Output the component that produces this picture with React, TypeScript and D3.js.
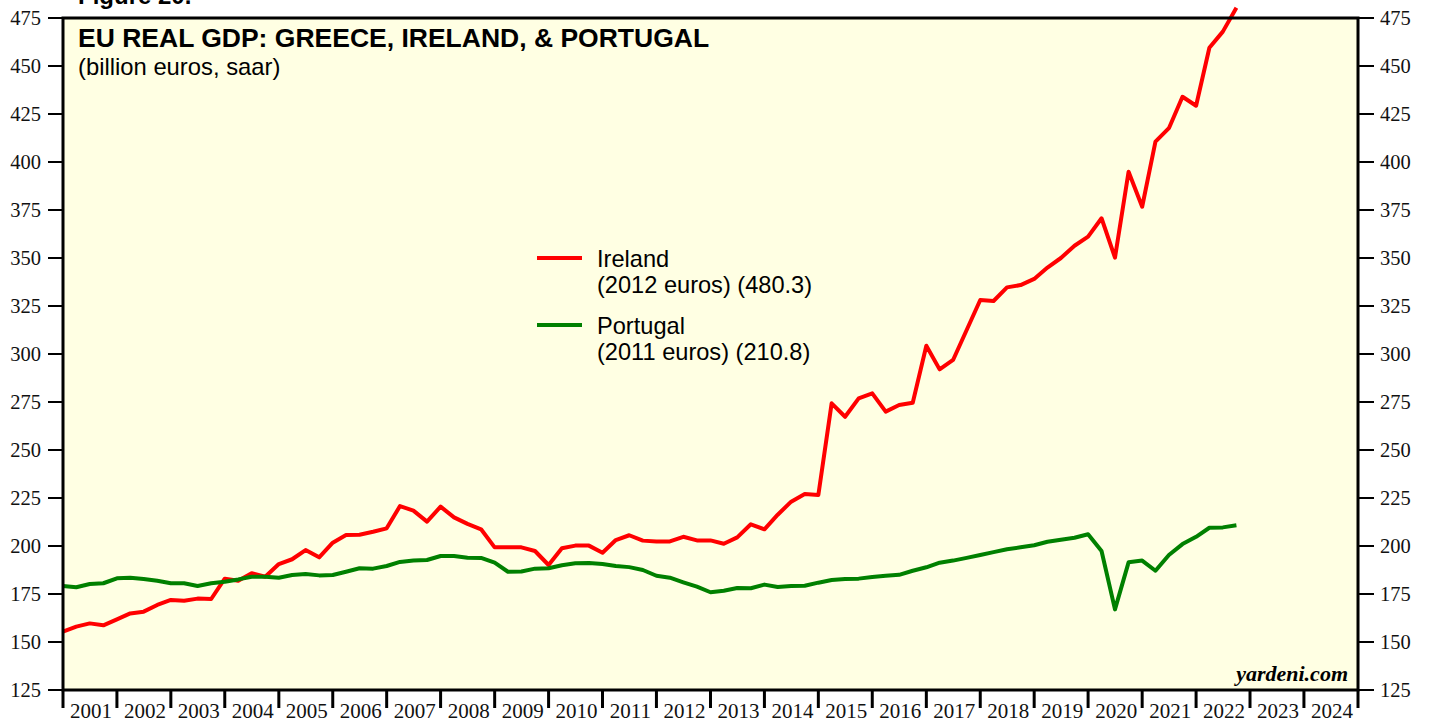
import React, { useEffect, useRef } from "react";
import * as d3 from "d3";

const W = 1429;
const H = 719;

const yearLabels = ["2001","2002","2003","2004","2005","2006","2007","2008","2009","2010","2011","2012","2013","2014","2015","2016","2017","2018","2019","2020","2021","2022","2023","2024"];
const yTicks = [125,150,175,200,225,250,275,300,325,350,375,400,425,450,475];

// Quarterly values, 2000Q4 .. 2022Q3 (plotted at quarter end)
const ireland = [
  155.4,158.0,159.7,158.7,161.8,164.9,165.8,169.3,171.9,171.5,172.6,172.4,
  183.0,181.9,185.8,184.0,190.6,193.1,197.9,194.1,201.7,205.7,205.9,207.4,
  209.2,220.8,218.4,212.7,220.5,214.9,211.5,208.7,199.3,199.3,199.3,197.4,
  190.1,198.8,200.2,200.2,196.5,203.1,205.6,202.8,202.4,202.4,204.8,202.9,
  202.9,201.2,204.5,211.3,208.7,216.3,223.1,227.1,226.6,274.3,267.3,276.9,
  279.5,270.0,273.4,274.6,304.3,292.0,296.9,312.5,328.1,327.6,334.7,335.9,
  339.1,345.0,350.0,356.4,361.1,370.7,350.2,394.9,376.7,410.6,417.6,434.0,
  429.3,459.5,467.9,480.3
];
const portugal = [
  179.2,178.5,180.2,180.6,183.2,183.5,182.8,181.9,180.6,180.6,179.2,180.6,
  181.4,182.6,184.0,184.0,183.5,184.9,185.4,184.7,184.9,186.6,188.4,188.2,
  189.6,191.7,192.4,192.7,194.8,194.8,193.9,193.8,191.3,186.6,186.7,188.2,
  188.4,190.0,191.0,191.1,190.6,189.6,189.0,187.5,184.5,183.5,181.1,178.8,
  175.9,176.7,178.1,178.0,179.9,178.6,179.2,179.3,180.9,182.3,182.8,183.0,
  183.9,184.5,185.0,187.1,188.9,191.3,192.4,193.8,195.3,196.8,198.3,199.3,
  200.4,202.2,203.3,204.3,206.1,197.4,167.0,191.5,192.4,187.1,195.3,201.0,
  204.8,209.5,209.7,210.8
];

const seriesList = [
  { name: "Ireland", sub: "(2012 euros) (480.3)", values: ireland, color: "#ff0000" },
  { name: "Portugal", sub: "(2011 euros) (210.8)", values: portugal, color: "#008000" },
];

export default function App() {
  const ref = useRef<SVGSVGElement | null>(null);

  useEffect(() => {
    const svg = d3.select(ref.current);
    svg.selectAll("*").remove();

    const left = 63, right = 1358, top = 18, bottom = 690;
    const x = d3.scaleTime()
      .domain([new Date(2001, 0, 1), new Date(2025, 0, 1)])
      .range([left, right]);
    const y = d3.scaleLinear().domain([125, 475]).range([bottom, top]);

    svg.append("rect")
      .attr("x", left).attr("y", top)
      .attr("width", right - left).attr("height", bottom - top)
      .attr("fill", "#ffffe3");

    const sans = "Liberation Sans, Arial, sans-serif";
    const serif = "Liberation Serif, Times New Roman, serif";

    // Figure label (partially cut off)
    svg.append("text")
      .attr("x", 78).attr("y", 4)
      .attr("font-family", sans)
      .attr("font-weight", "bold").attr("font-size", 24)
      .attr("fill", "#000")
      .text("Figure 20.");

    // Lines
    const dateOf = (i: number) => new Date(2001, 3 * i, 1);
    seriesList.forEach((s) => {
      const line = d3.line<number>()
        .x((_, i) => x(dateOf(i)))
        .y((v) => y(v));
      svg.append("path")
        .attr("d", line(s.values))
        .attr("fill", "none")
        .attr("stroke", s.color)
        .attr("stroke-width", 4)
        .attr("stroke-linejoin", "round");
    });

    // Frame
    svg.append("rect")
      .attr("x", left).attr("y", top)
      .attr("width", right - left).attr("height", bottom - top)
      .attr("fill", "none").attr("stroke", "#000").attr("stroke-width", 3);

    // Y axes
    yTicks.forEach((t) => {
      const yy = y(t);
      svg.append("line").attr("x1", 48).attr("x2", left).attr("y1", yy).attr("y2", yy)
        .attr("stroke", "#000").attr("stroke-width", 2);
      svg.append("line").attr("x1", right).attr("x2", 1374).attr("y1", yy).attr("y2", yy)
        .attr("stroke", "#000").attr("stroke-width", 2);
      svg.append("text").attr("x", 41).attr("y", yy).attr("dy", "0.35em")
        .attr("text-anchor", "end").attr("font-family", serif).attr("font-size", 20.5)
        .attr("fill", "#111").text(String(t));
      svg.append("text").attr("x", 1380).attr("y", yy).attr("dy", "0.35em")
        .attr("text-anchor", "start").attr("font-family", serif).attr("font-size", 20.5)
        .attr("fill", "#111").text(String(t));
    });

    // X axis ticks and labels
    const yearTicks = d3.range(2001, 2026).map((yr) => new Date(yr, 0, 1));
    yearTicks.forEach((d) => {
      const xx = x(d);
      svg.append("line").attr("x1", xx).attr("x2", xx).attr("y1", bottom).attr("y2", 708)
        .attr("stroke", "#000").attr("stroke-width", 3);
    });
    yearLabels.forEach((lab, i) => {
      const x0 = x(new Date(2001 + i, 0, 1));
      const x1 = x(new Date(2002 + i, 0, 1));
      svg.append("text").attr("x", (x0 + x1) / 2 + 1).attr("y", 718)
        .attr("text-anchor", "middle").attr("font-family", serif).attr("font-size", 21)
        .attr("fill", "#111").text(lab);
    });

    // Title
    svg.append("text").attr("x", 78).attr("y", 47)
      .attr("font-family", sans).attr("font-weight", "bold").attr("font-size", 26.5)
      .attr("fill", "#000").text("EU REAL GDP: GREECE, IRELAND, & PORTUGAL");
    svg.append("text").attr("x", 78).attr("y", 75)
      .attr("font-family", sans).attr("font-size", 23.8)
      .attr("fill", "#000").text("(billion euros, saar)");

    // Legend
    const legY = [258, 325];
    seriesList.forEach((s, i) => {
      const ly = legY[i];
      svg.append("line").attr("x1", 537).attr("x2", 582).attr("y1", ly).attr("y2", ly)
        .attr("stroke", s.color).attr("stroke-width", 4);
      svg.append("text").attr("x", 597).attr("y", ly + 8.5)
        .attr("font-family", sans).attr("font-size", 23.6).attr("fill", "#000").text(s.name);
      svg.append("text").attr("x", 597).attr("y", ly + 34.5)
        .attr("font-family", sans).attr("font-size", 23.6).attr("fill", "#000").text(s.sub);
    });

    // Source
    svg.append("text").attr("x", 1348).attr("y", 681)
      .attr("text-anchor", "end").attr("font-family", serif)
      .attr("font-weight", "bold").attr("font-style", "italic").attr("font-size", 22)
      .attr("fill", "#000").text("yardeni.com");
  }, []);

  return (
    <svg
      ref={ref}
      width={W}
      height={H}
      style={{ position: "absolute", left: 0, top: 0, background: "#fff" }}
    />
  );
}
